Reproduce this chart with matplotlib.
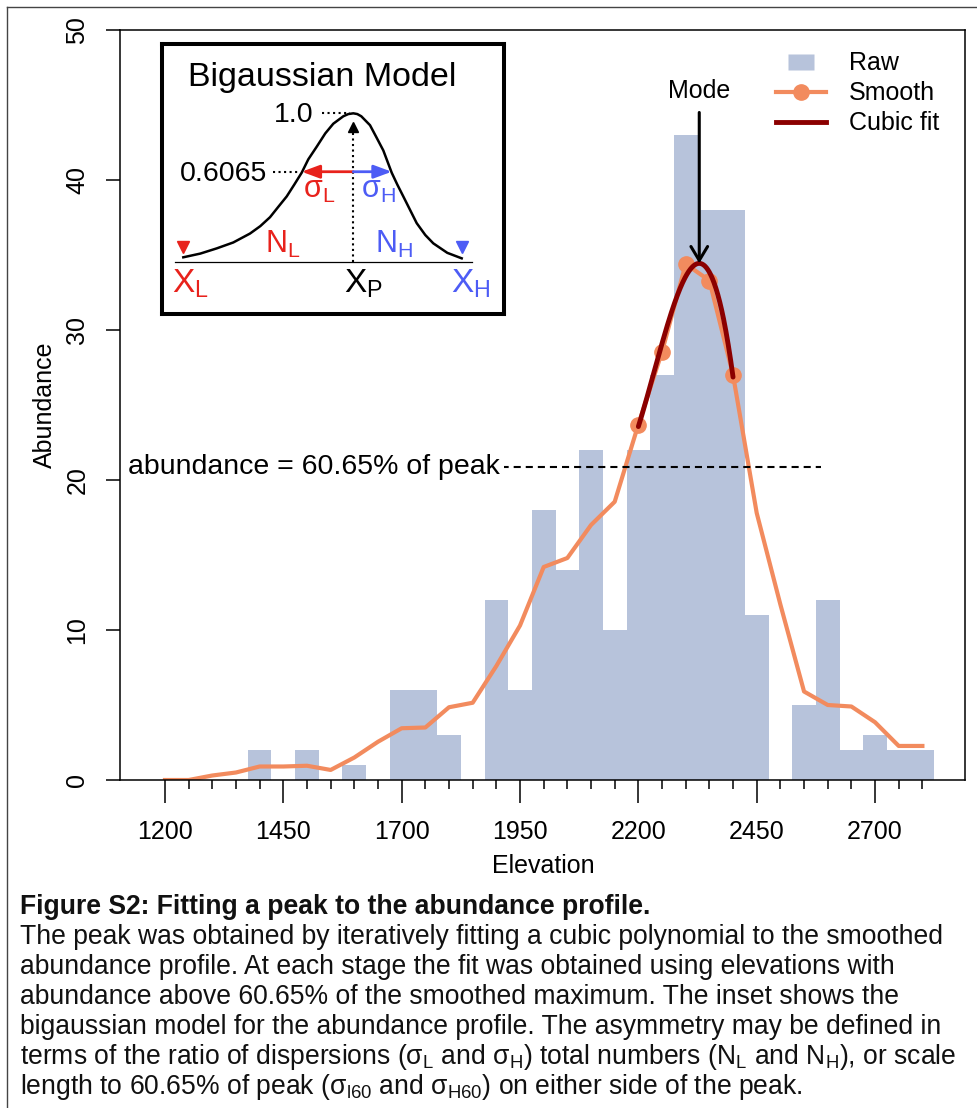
import numpy as np
import matplotlib.pyplot as plt
from matplotlib.lines import Line2D

plt.rcParams['font.family'] = ['Liberation Sans', 'DejaVu Sans']
plt.rcParams['mathtext.fontset'] = 'custom'
plt.rcParams['mathtext.rm'] = 'Liberation Sans'
plt.rcParams['mathtext.it'] = 'Liberation Sans:italic'
plt.rcParams['mathtext.bf'] = 'Liberation Sans:bold'

# -----------------------------
# abundance profile (bins of 50 m)
elevation = [1200, 1250, 1300, 1350, 1400, 1450, 1500, 1550, 1600, 1650, 1700,
             1750, 1800, 1850, 1900, 1950, 2000, 2050, 2100, 2150, 2200, 2250,
             2300, 2350, 2400, 2450, 2500, 2550, 2600, 2650, 2700, 2750, 2800]
raw = [0, 0, 0, 0, 2, 0, 2, 0, 1, 0, 6,
       6, 3, 0, 12, 6, 18, 14, 22, 10, 22, 27,
       43, 38, 38, 11, 0, 5, 12, 2, 3, 2, 2]
smooth = [0, 0, 0.3, 0.5, 0.9, 0.9, 0.95, 0.67, 1.5, 2.55, 3.45,
          3.5, 4.85, 5.15, 7.6, 10.3, 14.2, 14.8, 17.0, 18.55, 23.7, 28.55,
          34.4, 33.3, 27.0, 17.8, 11.7, 5.9, 5.0, 4.9, 3.85, 2.27, 2.27]
frac_peak = 0.6065

xticks_major = [1200, 1450, 1700, 1950, 2200, 2450, 2700]
yticks = [0, 10, 20, 30, 40, 50]

# bigaussian schematic (x relative to X_P, y relative to peak)
curve_x = [-1.70, -1.53, -1.366, -1.2, -1.033, -0.93, -0.833, -0.75, -0.666, -0.59,
           -0.516, -0.45, -0.366, -0.28, -0.20, -0.1, -0.05, 0.0, 0.04, 0.08, 0.167,
           0.23, 0.30, 0.384, 0.44, 0.50, 0.634, 0.72, 0.80, 0.94, 1.084]
curve_y = [0.03, 0.055, 0.09, 0.13, 0.19, 0.24, 0.30, 0.37, 0.44, 0.52,
           0.60, 0.69, 0.775, 0.865, 0.93, 0.98, 0.995, 1.0, 0.995, 0.98, 0.92,
           0.84, 0.75, 0.60, 0.52, 0.44, 0.26, 0.18, 0.124, 0.06, 0.023]

bar_col = '#B7C3DB'
smooth_col = '#F28B5E'
fit_col = '#8B0000'
red = '#E8221C'
blue = '#4D5CF5'

# -----------------------------
W, H = 977, 1108
fig = plt.figure(figsize=(W / 100, H / 100), dpi=100)


def px_box(l, t, r, b):
    return [l / W, 1 - b / H, (r - l) / W, (b - t) / H]


ax = fig.add_axes(px_box(120, 30, 965, 780))

ax.bar(elevation, raw, width=50, color=bar_col, linewidth=0, zorder=1)
ax.plot(elevation, smooth, color=smooth_col, lw=3, zorder=2, solid_joinstyle='round')

# cubic fit to points above 60.65% of smoothed max
elev_arr = np.array(elevation)
smooth_arr = np.array(smooth)
thr = frac_peak * smooth_arr.max()
sel = smooth_arr > thr
ax.plot(elev_arr[sel], smooth_arr[sel], 'o', ms=11, color=smooth_col, zorder=2)
coef = np.polyfit(elev_arr[sel], smooth_arr[sel], 3)
xx = np.linspace(elev_arr[sel].min(), elev_arr[sel].max(), 200)
yy = np.polyval(coef, xx)
ax.plot(xx, yy, color=fit_col, lw=3.5, zorder=3, solid_capstyle='round')
mode_x = xx[np.argmax(yy)]
peak = yy.max()

# threshold line
ax.plot([1120, 2585], [thr, thr], color='k', lw=1.5, ls=(0, (3.4, 2.4)), zorder=4)
ax.text(1122, thr, 'abundance = 60.65% of peak', ha='left', va='center', fontsize=20.5,
        bbox=dict(fc='white', ec='none', pad=3), zorder=5)

# mode arrow
ax.annotate('', xy=(mode_x, peak), xytext=(mode_x, 44.5),
            arrowprops=dict(arrowstyle='->,head_length=0.5,head_width=0.3', lw=2.2,
                            color='k', shrinkA=0, shrinkB=0, mutation_scale=20), zorder=6)
ax.text(mode_x, 45.9, 'Mode', ha='center', va='center', fontsize=18)

ax.set_xlim(1105, 2890)
ax.set_ylim(0, 50)
for s in ax.spines.values():
    s.set_linewidth(1.1)
ax.set_xticks(xticks_major)
ax.set_xticks(range(1200, 2801, 50), minor=True)
ax.set_yticks(yticks)
ax.tick_params(axis='x', which='major', length=16.5, width=1.1, pad=12, labelsize=18)
ax.tick_params(axis='x', which='minor', length=6.5, width=1.1)
ax.tick_params(axis='y', length=10, width=1.1, pad=12, labelsize=18, labelrotation=90)
for lab in ax.get_yticklabels():
    lab.set_va('center')
ax.set_xlabel('Elevation', fontsize=18, va='center')
ax.xaxis.set_label_coords(0.501, -0.115)
ax.set_ylabel('Abundance', fontsize=18, va='center')
ax.yaxis.set_label_coords(-0.089, 0.5)

# legend
raw_h = Line2D([], [], ls='none', marker=[(-1.6, -1), (1.6, -1), (1.6, 1), (-1.6, 1)],
               ms=18.7, mfc=bar_col, mec='none')
smooth_h = Line2D([], [], color=smooth_col, lw=3, marker='o', ms=11)
fit_h = Line2D([], [], color=fit_col, lw=3.5)
ax.legend([raw_h, smooth_h, fit_h], ['Raw', 'Smooth', 'Cubic fit'], loc='upper left',
          bbox_to_anchor=(0.7763, 0.9715), frameon=False, fontsize=18, handlelength=2.0,
          handletextpad=0.92, labelspacing=0.24, borderpad=0, borderaxespad=0, numpoints=1)

# -----------------------------
# inset: bigaussian model
ins = fig.add_axes(px_box(162, 44, 504, 314))
ins.set_xlim(-1.913, 1.507)
ins.set_ylim(-0.352, 1.467)
ins.set_xticks([])
ins.set_yticks([])
for s in ins.spines.values():
    s.set_linewidth(2.9)

ins.text(-0.31, 1.184, 'Bigaussian Model', ha='center', va='baseline', fontsize=24.5)
ins.plot([-1.783, 1.187], [0, 0], color='k', lw=0.9)
ins.plot(curve_x, curve_y, color='k', lw=1.8, solid_joinstyle='round')
ins.plot([-0.316, -0.033], [1, 1], color='k', ls=':', lw=1.5)
ins.text(-0.40, 0.943, '1.0', ha='right', va='baseline', fontsize=20.5)
ins.plot([-0.803, -0.533], [frac_peak, frac_peak], color='k', ls=':', lw=1.5)
ins.text(-0.86, 0.546, '0.6065', ha='right', va='baseline', fontsize=20.5)
ins.plot([0, 0], [0, 0.88], color='k', ls=':', lw=1.5)
ins.plot(0, 0.905, marker='^', ms=7.5, color='k')
for tip, col in [(-0.516, red), (0.384, blue)]:
    ins.annotate('', xy=(tip, frac_peak), xytext=(0, frac_peak),
                 arrowprops=dict(arrowstyle='-|>,head_length=0.54,head_width=0.2', color=col,
                                 lw=2, shrinkA=0, shrinkB=0, mutation_scale=20))
ins.text(-0.343, 0.427, 'σ$_\\mathregular{L}$', color=red, ha='center', va='baseline', fontsize=22)
ins.text(0.252, 0.427, 'σ$_\\mathregular{H}$', color=blue, ha='center', va='baseline', fontsize=22)
ins.text(-0.708, 0.059, 'N$_\\mathregular{L}$', color=red, ha='center', va='baseline', fontsize=22)
ins.text(0.407, 0.059, 'N$_\\mathregular{H}$', color=blue, ha='center', va='baseline', fontsize=22)
ins.text(-1.633, -0.211, 'X$_\\mathregular{L}$', color=red, ha='center', va='baseline', fontsize=24)
ins.text(0.097, -0.211, 'X$_\\mathregular{P}$', color='k', ha='center', va='baseline', fontsize=24)
ins.text(1.177, -0.211, 'X$_\\mathregular{H}$', color=blue, ha='center', va='baseline', fontsize=24)
ins.plot(-1.70, 0.10, marker='v', ms=8, color=red)
ins.plot(1.084, 0.10, marker='v', ms=8, color=blue)

# -----------------------------
# outer frame
fig.add_artist(Line2D([7 / W, 7 / W], [0, 1 - 7 / H], transform=fig.transFigure, color='#444444', lw=1))
fig.add_artist(Line2D([7 / W, 1], [1 - 7 / H, 1 - 7 / H], transform=fig.transFigure, color='#444444', lw=1))

# caption
fig.text(20 / W, 1 - 914 / H, 'Figure S2: Fitting a peak to the abundance profile.',
         fontsize=19.1, fontweight='bold', va='baseline', color='#111111')
caption = [
    'The peak was obtained by iteratively fitting a cubic polynomial to the smoothed',
    'abundance profile. At each stage the fit was obtained using elevations with',
    'abundance above 60.65% of the smoothed maximum. The inset shows the',
    'bigaussian model for the abundance profile. The asymmetry may be defined in',
    'terms of the ratio of dispersions (σ$_\\mathregular{L}$ and σ$_\\mathregular{H}$) total numbers '
    '(N$_\\mathregular{L}$ and N$_\\mathregular{H}$), or scale',
    'length to 60.65% of peak (σ$_\\mathregular{l60}$ and σ$_\\mathregular{H60}$) on either side of the peak.',
]
for i, line in enumerate(caption):
    fig.text(20 / W, 1 - (944 + 30 * i) / H, line, fontsize=19.1, va='baseline', color='#111111')

fig.savefig('out.png', dpi=100)
